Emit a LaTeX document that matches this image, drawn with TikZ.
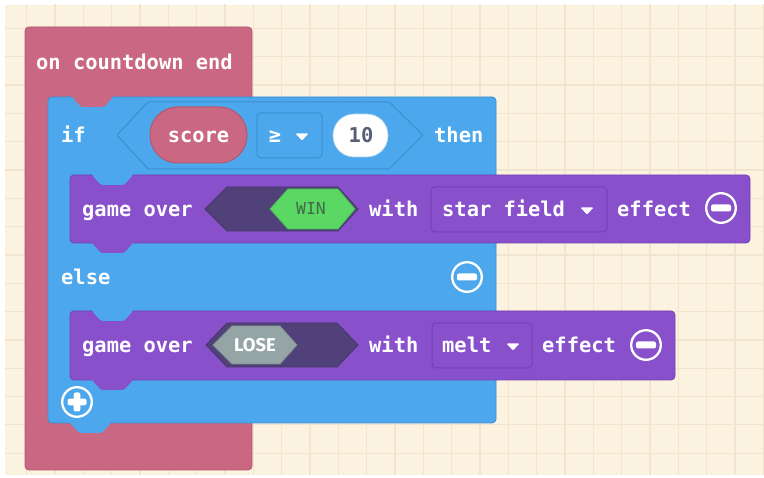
\documentclass[tikz,border=0pt]{standalone}
\usepackage{fontspec}
\newfontfamily\blk{DejaVu Sans Mono}
\newfontfamily\lbl{Fira Sans}

\definecolor{paper}{HTML}{FBF2E0}
\definecolor{gridc}{HTML}{F1E5CF}
\definecolor{hatc}{HTML}{CA6782}
\definecolor{hate}{HTML}{B25870}
\definecolor{logc}{HTML}{4CA7EC}
\definecolor{loge}{HTML}{3A8FCF}
\definecolor{gamec}{HTML}{8950CC}
\definecolor{gamee}{HTML}{7440B4}
\definecolor{slotc}{HTML}{51417A}
\definecolor{winc}{HTML}{5BD764}
\definecolor{wine}{HTML}{4BB954}
\definecolor{wintext}{HTML}{3F6B47}
\definecolor{losec}{HTML}{95A5A6}
\definecolor{numtext}{HTML}{575E75}

% connector tab of a block: x of its left end, y of the edge it hangs from
\newcommand\blocktab[3]{%
  \fill[#3,rounded corners=2.5pt] (#1,{#2-3}) -- (#1,#2) -- ({#1+9},{#2+10}) --
    ({#1+32},{#2+10}) -- ({#1+41},#2) -- ({#1+41},{#2-3}) -- cycle;}
% round minus / plus buttons
\newcommand\minusbutton[2]{%
  \draw[white,line width=2.3pt] (#1,#2) circle[radius=14.8pt];
  \fill[white,rounded corners=2pt] ({#1-10},{#2-3.5}) rectangle ({#1+10},{#2+3.5});}
\newcommand\plusbutton[2]{%
  \draw[white,line width=2.3pt] (#1,#2) circle[radius=14.8pt];
  \fill[white,rounded corners=2pt] ({#1-9.5},{#2-3.3}) rectangle ({#1+9.5},{#2+3.3});
  \fill[white,rounded corners=2pt] ({#1-3.3},{#2-9.5}) rectangle ({#1+3.3},{#2+9.5});}
% dropdown arrow
\newcommand\droparrow[2]{%
  \fill[white,rounded corners=1pt] ({#1-6.5},{#2-2.5}) -- ({#1+6.5},{#2-2.5}) -- (#1,{#2+4.5}) -- cycle;}

\begin{document}
\begin{tikzpicture}[x=1pt,y=-1pt,
  txt/.style={text=white,font=\blk\bfseries\fontsize{20.4}{24}\selectfont,
              inner sep=0pt,anchor=base west},
  block/.style={line width=0.8pt,rounded corners=4pt},
  field/.style={line width=1pt,rounded corners=4pt}]

\useasboundingbox (0,0) rectangle (764,478);
\fill[white] (0,0) rectangle (764,478);

% workspace with grid
\begin{scope}
  \clip (5,5) rectangle (764,475);
  \fill[paper] (5,5) rectangle (764,475);
  \foreach \i in {0,...,26}
    \draw[gridc,line width=1.1pt] ({26.7+28.33*\i},0) -- ({26.7+28.33*\i},478);
  \foreach \j in {1,...,16}
    \draw[gridc,line width=1.1pt] (0,{28.33*\j}) -- (764,{28.33*\j});
\end{scope}

% event block
\filldraw[block,fill=hatc,draw=hate] (25,27) rectangle (252,470);

% if / else block
\filldraw[block,fill=logc,draw=loge] (48,97) rectangle (496,423);
\blocktab{72}{97}{hatc}
\blocktab{70}{423}{logc}

% condition
\filldraw[fill=logc,draw=loge,line width=1pt,rounded corners=1pt]
  (117,135) -- (148,102) -- (389,102) -- (423,135) -- (389,169) -- (148,169) -- cycle;
\filldraw[fill=hatc,draw=hate,line width=1pt,rounded corners=27.5pt]
  (150,107) rectangle (247,163);
\filldraw[field,fill=logc,draw=loge] (257,113) rectangle (322,158);
\droparrow{302}{136}
\filldraw[fill=white,draw=loge!40,line width=0.6pt,rounded corners=21pt]
  (333,114) rectangle (388,157);

% first game over block
\filldraw[block,fill=gamec,draw=gamee] (70,175) rectangle (750,243);
\blocktab{92}{175}{logc}
\blocktab{92}{243}{gamec}
\filldraw[fill=slotc,draw=slotc!85!black,line width=0.8pt]
  (205,209) -- (227,187) -- (338,187) -- (358,209) -- (338,231) -- (227,231) -- cycle;
\filldraw[fill=winc,draw=wine,line width=0.8pt]
  (270,209) -- (288,189) -- (338,189) -- (355,209) -- (338,229) -- (288,229) -- cycle;
\filldraw[field,fill=gamec,draw=gamee] (431,187) rectangle (607,232);
\droparrow{587}{210}
\minusbutton{721}{208}

% second game over block
\filldraw[block,fill=gamec,draw=gamee] (70,311) rectangle (675,380);
\blocktab{92}{311}{logc}
\blocktab{92}{380}{gamec}
\filldraw[fill=slotc,draw=slotc!85!black,line width=0.8pt]
  (206,345) -- (227,323) -- (337,323) -- (358,345) -- (337,367) -- (227,367) -- cycle;
\filldraw[fill=losec,draw=losec!85!black,line width=0.8pt]
  (213,345) -- (232,326) -- (280,326) -- (297,345) -- (280,364) -- (232,364) -- cycle;
\filldraw[field,fill=gamec,draw=gamee] (432,323) rectangle (532,368);
\droparrow{513}{346}
\minusbutton{646}{345}

% else / add buttons
\minusbutton{467}{277}
\plusbutton{77}{402}

% labels
\node[txt] (hat) at (36,69.5) {on countdown end};
\node[txt] (iflbl) at (61,142.5) {if};
\node[txt] (thenlbl) at (434,142.5) {then};
\node[txt,anchor=base] (score) at (198.5,142.5) {score};
\node[txt,anchor=base] (cmp) at (275,142.5) {≥};
\node[txt,anchor=base,text=numtext] (ten) at (361,142.5) {10};
\node[txt] (go1) at (82,216.5) {game over};
\node[txt] (with1) at (369,216.5) {with};
\node[txt] (starfield) at (442,216.5) {star field};
\node[txt] (effect1) at (617,216.5) {effect};
\node[txt] (elselbl) at (61,284.5) {else};
\node[txt] (go2) at (82,352.5) {game over};
\node[txt] (with2) at (369,352.5) {with};
\node[txt] (melt) at (442,352.5) {melt};
\node[txt] (effect2) at (542,352.5) {effect};
\node[inner sep=0pt,anchor=base,text=wintext,font=\blk\fontsize{16.5}{18}\selectfont]
  (win) at (311,215) {WIN};
\node[inner sep=0pt,anchor=base,text=white,font=\lbl\bfseries\fontsize{18.5}{20}\selectfont]
  (lose) at (255,352) {LOSE};
\end{tikzpicture}
\end{document}
